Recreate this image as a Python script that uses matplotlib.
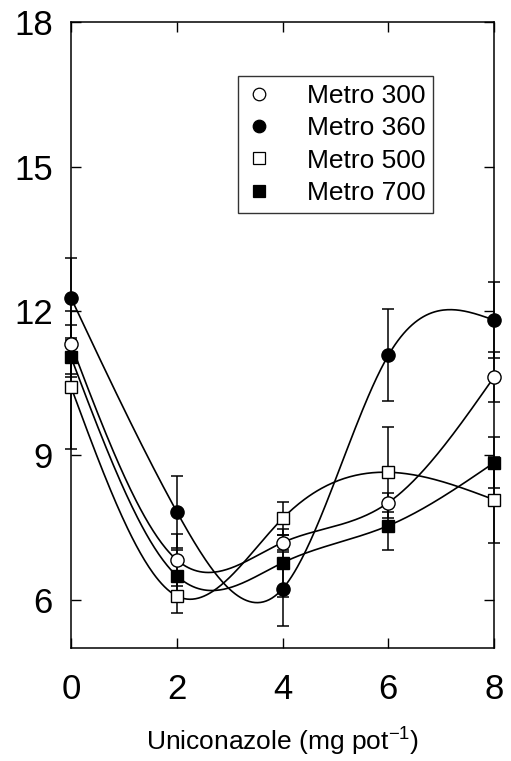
import numpy as np
import matplotlib
matplotlib.use("Agg")
import matplotlib.pyplot as plt

plt.rcParams['font.family'] = ['Liberation Sans', 'DejaVu Sans']
plt.rcParams['mathtext.fontset'] = 'custom'
plt.rcParams['mathtext.rm'] = 'Liberation Sans'
plt.rcParams['mathtext.it'] = 'Liberation Sans:italic'
plt.rcParams['mathtext.bf'] = 'Liberation Sans:bold'

# dose of uniconazole (mg pot-1)
dose = [0, 2, 4, 6, 8]

# series values
metro300 = [11.31, 6.83, 7.19, 8.02, 10.63]
metro360 = [12.27, 7.83, 6.23, 11.08, 11.81]
metro500 = [10.42, 6.08, 7.69, 8.65, 8.08]
metro700 = [11.04, 6.50, 6.77, 7.54, 8.85]

# error bar half-widths
err300 = [0.68, 0.54, 0.15, 0.20, 0.52]
err360 = [0.83, 0.75, 0.77, 0.96, 0.79]
err500 = [1.29, 0.35, 0.35, 0.95, 0.89]
err700 = [0.35, 0.54, 0.71, 0.50, 0.53]

labels = ["Metro 300", "Metro 360", "Metro 500", "Metro 700"]
yticks = [6, 9, 12, 15, 18]


def natural_spline(x, y, n=300):
    # natural cubic spline through the points, used only to draw the curve
    x = np.asarray(x, float)
    y = np.asarray(y, float)
    k = len(x)
    h = np.diff(x)
    A = np.zeros((k, k))
    b = np.zeros(k)
    A[0, 0] = 1
    A[-1, -1] = 1
    for i in range(1, k - 1):
        A[i, i - 1] = h[i - 1]
        A[i, i] = 2 * (h[i - 1] + h[i])
        A[i, i + 1] = h[i]
        b[i] = 6 * ((y[i + 1] - y[i]) / h[i] - (y[i] - y[i - 1]) / h[i - 1])
    M = np.linalg.solve(A, b)
    xs = np.linspace(x[0], x[-1], n)
    idx = np.clip(np.searchsorted(x, xs) - 1, 0, k - 2)
    x0, x1 = x[idx], x[idx + 1]
    hh = x1 - x0
    t0 = x1 - xs
    t1 = xs - x0
    ys = (M[idx] * t0 ** 3 + M[idx + 1] * t1 ** 3) / (6 * hh) \
        + (y[idx] / hh - M[idx] * hh / 6) * t0 \
        + (y[idx + 1] / hh - M[idx + 1] * hh / 6) * t1
    return xs, ys


fig = plt.figure(figsize=(5.11, 7.61), dpi=100)
ax = fig.add_axes([0.139, 0.1485, 0.828, 0.8225])

series = [
    (metro300, err300, 'o', 'white'),
    (metro360, err360, 'o', 'black'),
    (metro500, err500, 's', 'white'),
    (metro700, err700, 's', 'black'),
]

handles = []
for (vals, err, mk, fc), lab in zip(series, labels):
    xs, ys = natural_spline(dose, vals)
    ax.plot(xs, ys, color='black', lw=1.2, zorder=2, clip_on=False)
    ax.errorbar(dose, vals, yerr=err, fmt='none', ecolor='black',
                elinewidth=1.1, capsize=4.5, capthick=1.1, zorder=3, clip_on=False)
    ms = 9.5 if mk == 'o' else 8.5
    ax.plot(dose, vals, linestyle='none', marker=mk, ms=ms, mfc=fc,
            mec='black', mew=1.0, zorder=4, clip_on=False)
    h, = ax.plot([], [], linestyle='none', marker=mk, ms=ms * 0.95, mfc=fc,
                 mec='black', mew=0.9, label=lab)
    handles.append(h)

ax.set_xlim(0, 8)
ax.set_ylim(5, 18)
ax.set_xticks(dose)
ax.set_yticks(yticks)
ax.tick_params(direction='in', length=7, width=1.0, top=True, right=True,
               labelsize=25)
ax.tick_params(axis='y', pad=13)
ax.tick_params(axis='x', pad=18)
for s in ax.spines.values():
    s.set_linewidth(1.1)

ax.set_xlabel("Uniconazole (mg pot$^{-1}$)", fontsize=19, labelpad=14)

leg = ax.legend(handles=handles, loc='upper left', bbox_to_anchor=(0.395, 0.914),
                borderaxespad=0, fontsize=19, frameon=True, fancybox=False,
                edgecolor='black', handlelength=1.0, handletextpad=1.3,
                labelspacing=0.32, borderpad=0.3)
leg.get_frame().set_linewidth(1.0)

fig.savefig("out.png", dpi=100)
